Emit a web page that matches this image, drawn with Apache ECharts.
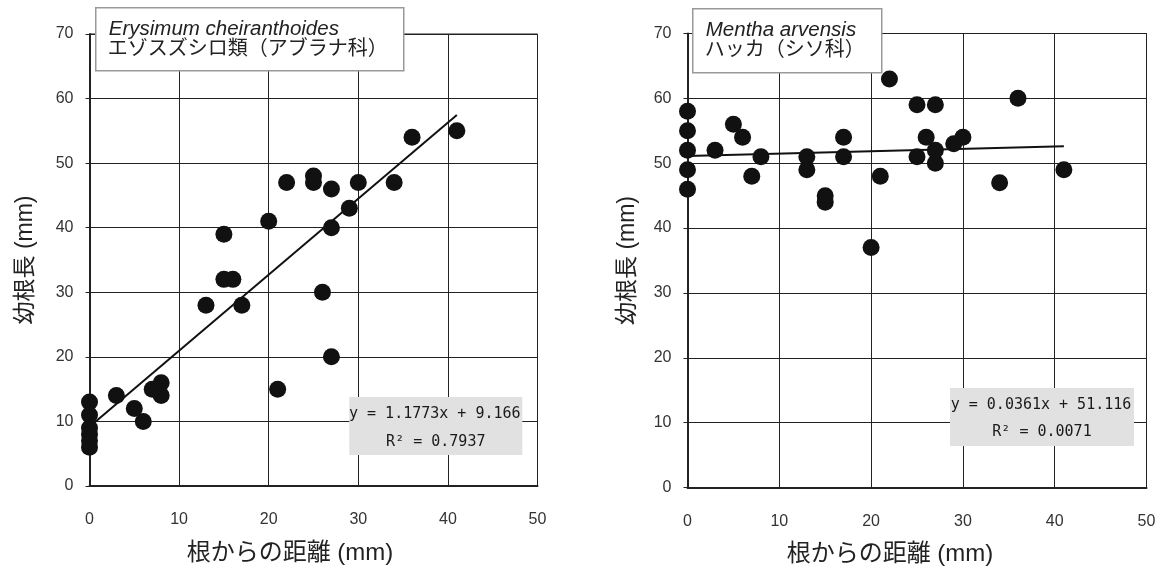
<!DOCTYPE html>
<html><head><meta charset="utf-8">
<script src="https://cdn.jsdelivr.net/npm/echarts@6/dist/echarts.min.js"></script>
<style>html,body{margin:0;padding:0;background:#fff}#c{width:1162px;height:572px}</style>
</head><body><div id="c"></div>
<script>
// Left: Erysimum cheiranthoides
var leftPoints = [
  [0,13],[0,11],[0,9],[0,8],[0,7],[0,6],
  [3,14],[5,12],[6,10],[7,15],[8,16],[8,14],
  [13,28],[15,32],[16,32],[15,39],[17,28],[20,41],[21,15],
  [22,47],[25,48],[25,47],[26,30],[27,46],[27,40],[27,20],
  [29,43],[30,47],[34,47],[36,54],[41,55]
];
var leftTrend = [[0,9.17],[41,57.44]];
// Right: Mentha arvensis
var rightPoints = [
  [0,58],[0,55],[0,52],[0,49],[0,46],
  [3,52],[5,56],[6,54],[7,48],[8,51],
  [13,51],[13,49],[15,45],[15,44],[17,54],[17,51],
  [20,37],[21,48],[22,63],[25,59],[25,51],[26,54],
  [27,59],[27,52],[27,50],[29,53],[30,54],[34,47],[36,60],[41,49]
];
var rightTrend = [[0,51.12],[41,52.60]];
var xTicks = [0,10,20,30,40,50];
var yTicks = [0,10,20,30,40,50,60,70];
var leftTitle = ['Erysimum cheiranthoides','エゾスズシロ類（アブラナ科）'];
var rightTitle = ['Mentha arvensis','ハッカ（シソ科）'];
var leftEq = ['y = 1.1773x + 9.166','R² = 0.7937'];
var rightEq = ['y = 0.0361x + 51.116','R² = 0.0071'];
var xName = '根からの距離 (mm)';
var yName = '幼根長 (mm)';

var tickFont = {fontFamily:'"Liberation Sans",Arial,sans-serif', fontSize:16, color:'#333'};
var nameFont = {fontFamily:'"Liberation Sans","Noto Sans CJK JP",sans-serif', fontSize:24, color:'#222'};

function xAxis(i, shift){
  return {type:'value', gridIndex:i, min:0, max:50, interval:10,
    name:xName, nameLocation:'middle', nameGap:55,
    nameTextStyle:Object.assign({padding:[0, shift, 0, 0]}, nameFont),
    axisLine:{show:true, onZero:false, lineStyle:{color:'#222', width:2}},
    axisTick:{show:false},
    axisLabel:Object.assign({margin:26, formatter:function(v){return xTicks.indexOf(v)>=0?String(v):'';}}, tickFont),
    splitLine:{show:true, lineStyle:{color:'#222', width:1}}};
}
function yAxis(i, gap){
  return {type:'value', gridIndex:i, min:0, max:70, interval:10,
    name:yName, nameLocation:'middle', nameGap:gap,
    nameTextStyle:Object.assign({}, nameFont, {fontSize:23}),
    axisLine:{show:true, onZero:false, lineStyle:{color:'#222', width:2}},
    axisTick:{show:true, length:4, lineStyle:{color:'#222'}},
    axisLabel:Object.assign({margin:16, formatter:function(v){return yTicks.indexOf(v)>=0?String(v):'';}}, tickFont),
    splitLine:{show:true, lineStyle:{color:'#222', width:1}}};
}
function titleBox(x,y,w,h,lines){
  return {type:'group', left:x, top:y, z:100, children:[
    {type:'rect', z:100, shape:{x:0,y:0,width:w,height:h}, style:{fill:'#fff', stroke:'#999', lineWidth:1.5}},
    {type:'text', z:101, x:13, y:12, style:{text:lines[0], font:'italic 20.5px "Liberation Sans", Arial, sans-serif', fill:'#222'}},
    {type:'text', z:101, x:12, y:30, style:{text:lines[1], font:'20px "Noto Sans CJK JP", sans-serif', fill:'#222'}}
  ]};
}
function eqBox(x,y,w,h,lines,y1,y2){
  var f = '15px "DejaVu Sans Mono","Liberation Mono", monospace';
  return {type:'group', left:x, top:y, z:100, children:[
    {type:'rect', z:100, shape:{x:0,y:0,width:w,height:h}, style:{fill:'#e1e1e1'}},
    {type:'text', z:101, x:w/2-1, y:y1, style:{text:lines[0], textAlign:'center', textVerticalAlign:'middle', font:f, fill:'#1a1a1a'}},
    {type:'text', z:101, x:w/2, y:y2, style:{text:lines[1], textAlign:'center', textVerticalAlign:'middle', font:f, fill:'#1a1a1a'}}
  ]};
}

var chart = echarts.init(document.getElementById('c'), null, {renderer:'canvas'});
chart.setOption({
  animation:false,
  backgroundColor:'#fff',
  grid:[
    {left:89.5, top:34, width:448, height:452, show:true, borderColor:'#222', borderWidth:1},
    {left:687.5, top:33.5, width:459, height:454, show:true, borderColor:'#222', borderWidth:1}
  ],
  xAxis:[xAxis(0, 47), xAxis(1, 54)],
  yAxis:[yAxis(0, 52), yAxis(1, 48)],
  series:[
    {type:'scatter', xAxisIndex:0, yAxisIndex:0, data:leftPoints, symbolSize:17, itemStyle:{color:'#111', opacity:1}, z:5},
    {type:'line', xAxisIndex:0, yAxisIndex:0, data:leftTrend, symbol:'none', lineStyle:{color:'#111', width:2}, z:4},
    {type:'scatter', xAxisIndex:1, yAxisIndex:1, data:rightPoints, symbolSize:17, itemStyle:{color:'#111', opacity:1}, z:5},
    {type:'line', xAxisIndex:1, yAxisIndex:1, data:rightTrend, symbol:'none', lineStyle:{color:'#111', width:2}, z:4}
  ],
  graphic:[
    titleBox(95,7,308,63,leftTitle),
    titleBox(692,8,189,64,rightTitle),
    eqBox(349,397,173,58,leftEq,17,45),
    eqBox(950,388,184,58,rightEq,17,44)
  ]
});
</script></body></html>
